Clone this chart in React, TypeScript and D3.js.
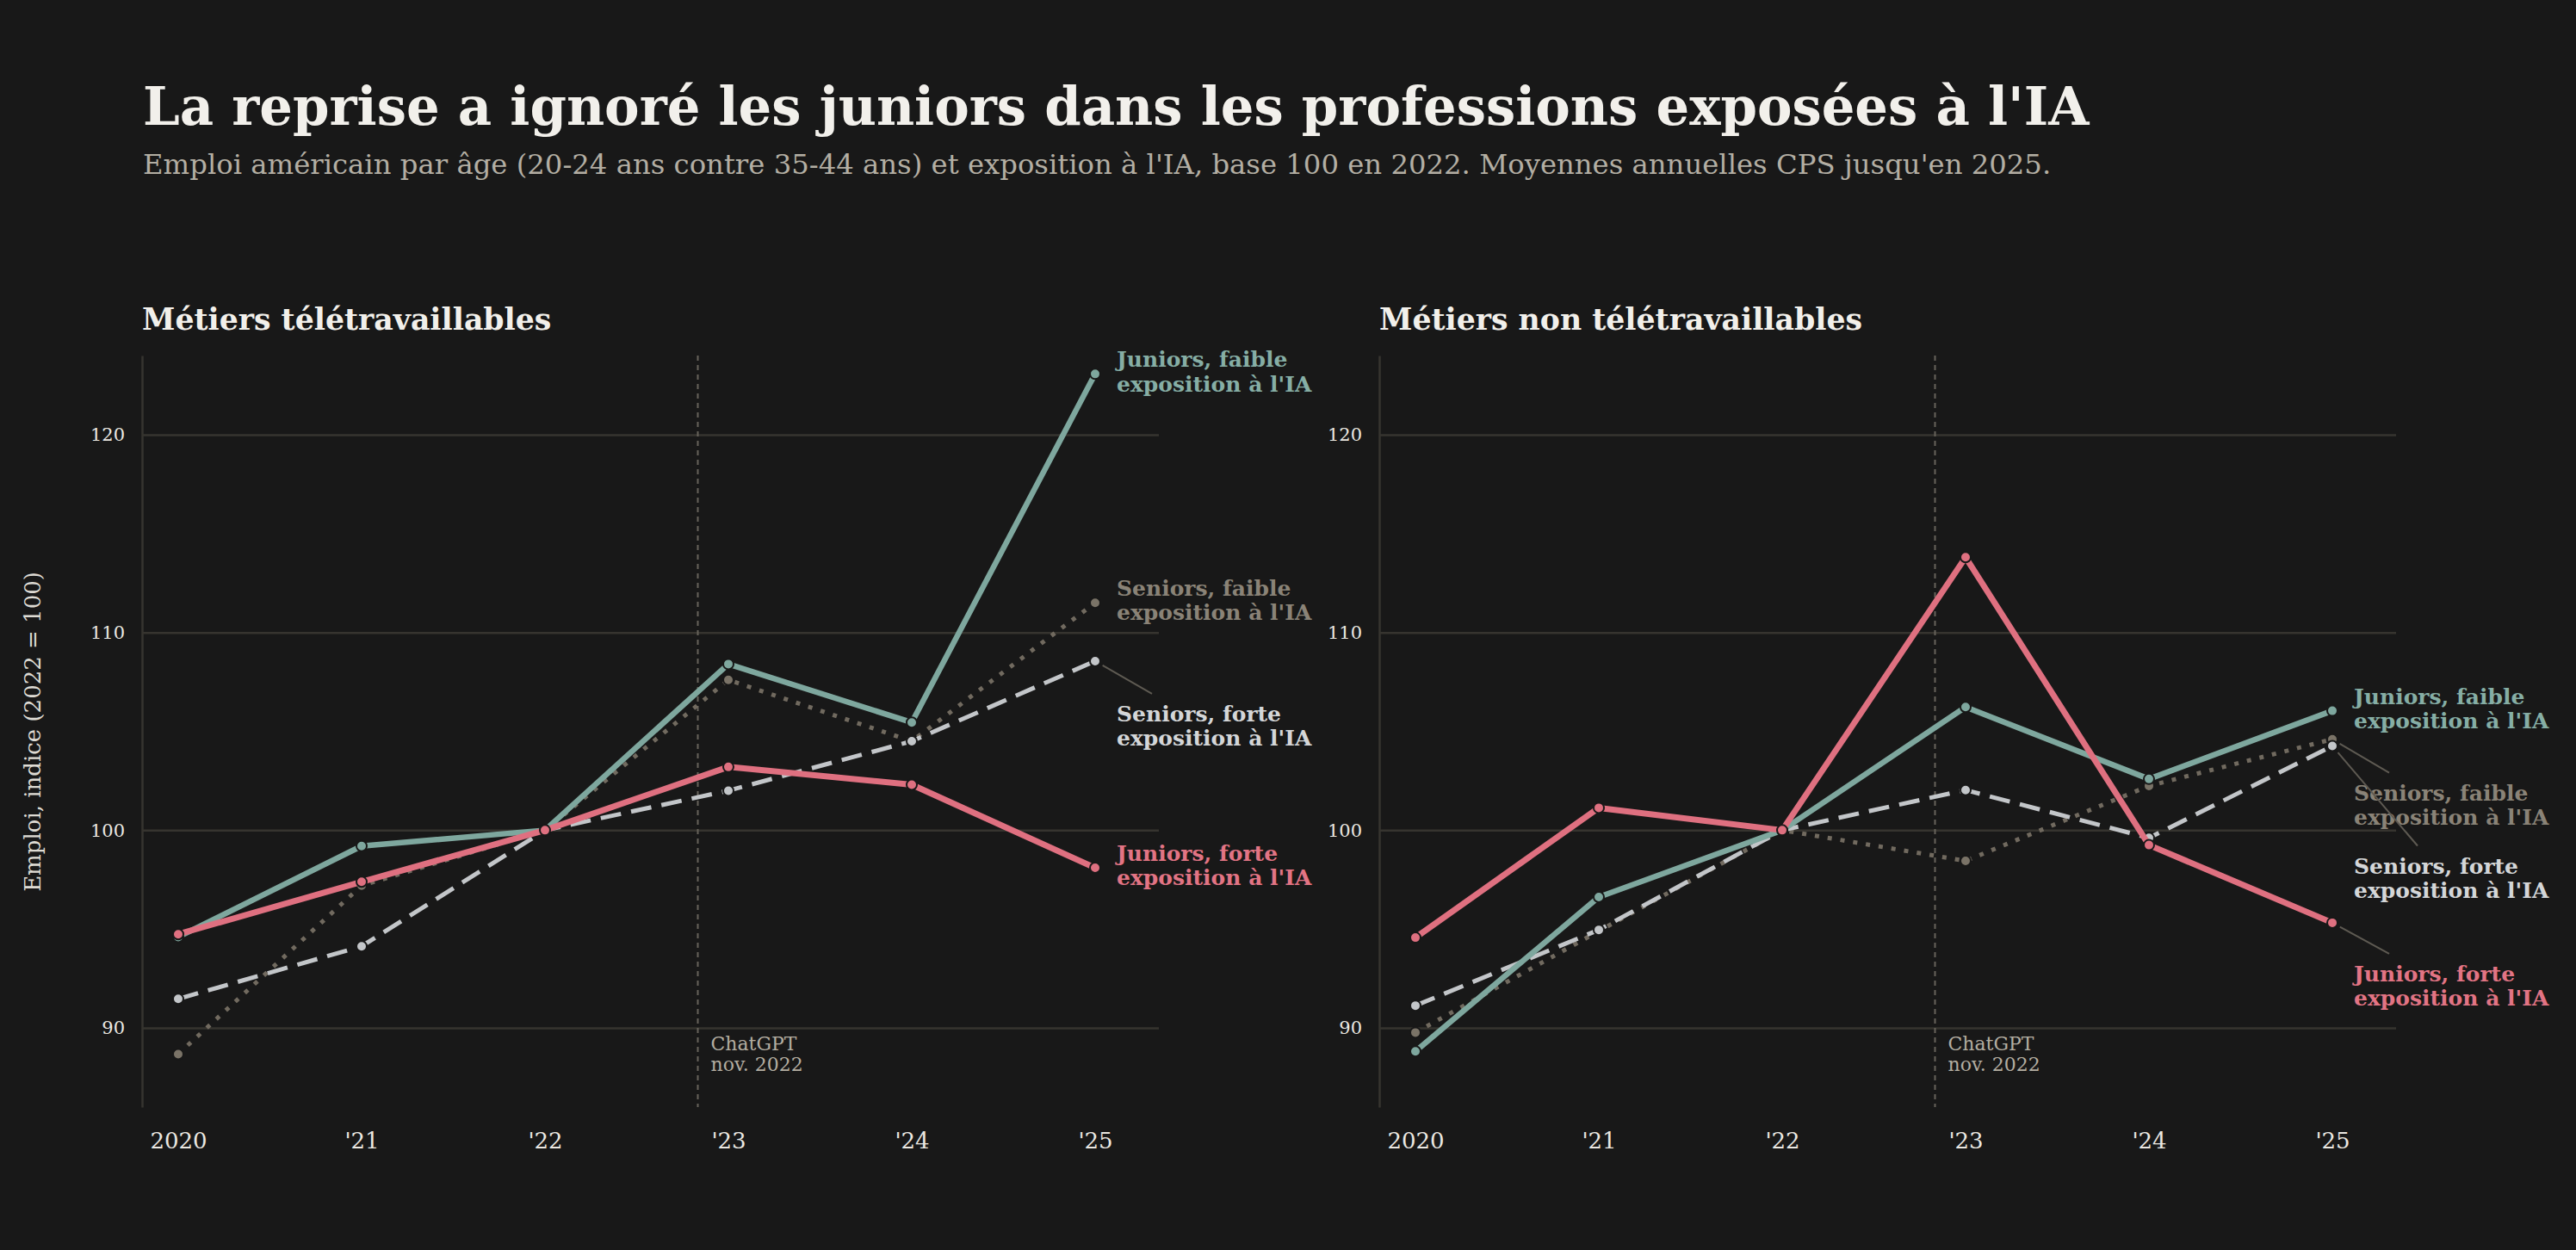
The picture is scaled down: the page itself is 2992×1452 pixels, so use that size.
import { useEffect, useRef } from "react"
import * as d3 from "d3"

// Chart data
const years = [2020, 2021, 2022, 2023, 2024, 2025]
const yearLabels = ["2020", "'21", "'22", "'23", "'24", "'25"]
const yTicks = [90, 100, 110, 120]
const chatGptDate = 2022 + 10 / 12

const panelTitles = ["Métiers télétravaillables", "Métiers non télétravaillables"]

// Métiers télétravaillables
const remoteJuniorsLow = [94.6, 99.2, 100, 108.4, 105.45, 123.07]
const remoteJuniorsHigh = [94.74, 97.39, 100, 103.2, 102.3, 98.1]
const remoteSeniorsLow = [88.68, 97.2, 100, 107.6, 104.5, 111.5]
const remoteSeniorsHigh = [91.47, 94.13, 100, 102.0, 104.5, 108.55]

// Métiers non télétravaillables
const onsiteJuniorsLow = [88.82, 96.62, 100, 106.23, 102.59, 106.04]
const onsiteJuniorsHigh = [94.57, 101.13, 100, 113.8, 99.25, 95.32]
const onsiteSeniorsLow = [89.77, 94.9, 100, 98.45, 102.24, 104.6]
const onsiteSeniorsHigh = [91.13, 94.96, 100, 102.03, 99.61, 104.26]

const seriesLabels = [
  ["Seniors, faible", "exposition à l'IA"],
  ["Seniors, forte", "exposition à l'IA"],
  ["Juniors, faible", "exposition à l'IA"],
  ["Juniors, forte", "exposition à l'IA"],
]

const panelValues = [
  [remoteSeniorsLow, remoteSeniorsHigh, remoteJuniorsLow, remoteJuniorsHigh],
  [onsiteSeniorsLow, onsiteSeniorsHigh, onsiteJuniorsLow, onsiteJuniorsHigh],
]

const W = 2992
const H = 1452
const BG = "#181818"
const FONT = "'DejaVu Serif', Georgia, serif"
const GRID = "#36342f"

// draw order: seniors faible, seniors forte, juniors faible, juniors forte
const seriesStyles = [
  { color: "#716a5f", dotColor: "#7a7367", width: 5, dash: "5,10", labelColor: "#8a8377" },
  { color: "#c3c6c9", dotColor: "#c3c6c9", width: 5, dash: "24,12", labelColor: "#d4d6d8" },
  { color: "#7ea79e", dotColor: "#7ea79e", width: 6.5, dash: null, labelColor: "#86aea5" },
  { color: "#df7080", dotColor: "#df7080", width: 7, dash: null, labelColor: "#e27484" },
]

// label offsets (px below the end point) and leader line end, per panel
const labelShift = [
  [0, 78, 0, 0],
  [79, 156, 0, 76],
]
const leaderDx = [
  [41, 41, 41, 41],
  [41, 74, 41, 41],
]

const panelLeft = [165, 1602]
const plotTop = 413
const plotBottom = 1286

const App = () => {
  const svgRef = useRef<SVGSVGElement | null>(null)

  useEffect(() => {
    if (!svgRef.current) return
    document.body.style.margin = "0"
    document.body.style.background = BG
    document.body.style.overflow = "hidden"

    const svg = d3.select(svgRef.current)
    svg.selectAll("*").remove()
    svg.attr("font-family", FONT)

    svg.append("rect").attr("width", W).attr("height", H).attr("fill", BG)

    // Titles
    svg
      .append("text")
      .attr("x", 166)
      .attr("y", 145)
      .attr("font-size", 60.8)
      .attr("font-weight", 700)
      .attr("fill", "#f2f0eb")
      .text("La reprise a ignoré les juniors dans les professions exposées à l'IA")

    svg
      .append("text")
      .attr("x", 166)
      .attr("y", 202)
      .attr("font-size", 32.3)
      .attr("fill", "#b3aea3")
      .text(
        "Emploi américain par âge (20-24 ans contre 35-44 ans) et exposition à l'IA, base 100 en 2022. Moyennes annuelles CPS jusqu'en 2025.",
      )

    const y = d3.scaleLinear().domain([86, 124]).range([plotBottom, plotTop])

    panelValues.forEach((values, pi) => {
      const left = panelLeft[pi]
      const gridEnd = left + 1181
      const x = d3.scaleLinear().domain([2020, 2025]).range([left + 42, left + 1107])
      const g = svg.append("g")

      g.append("text")
        .attr("x", left)
        .attr("y", 383)
        .attr("font-size", 34.7)
        .attr("font-weight", 700)
        .attr("fill", "#f2f0eb")
        .text(panelTitles[pi])

      // y axis + grid
      const yAxis = g
        .append("g")
        .attr("transform", `translate(${left},0)`)
        .call(
          d3
            .axisLeft(y)
            .tickValues(yTicks)
            .tickSize(-(gridEnd - left))
            .tickSizeOuter(0)
            .tickPadding(20),
        )
      yAxis.select(".domain").attr("stroke", GRID).attr("stroke-width", 2.5)
      yAxis.selectAll(".tick line").attr("stroke", GRID).attr("stroke-width", 2.5)
      yAxis
        .selectAll(".tick text")
        .attr("fill", "#ebe8e2")
        .attr("font-size", 21)
        .attr("font-family", FONT)

      // x axis
      const xAxis = g
        .append("g")
        .attr("transform", `translate(0,${plotBottom})`)
        .call(
          d3
            .axisBottom(x)
            .tickValues(years)
            .tickFormat((d, i) => yearLabels[i])
            .tickSize(0)
            .tickPadding(30),
        )
      xAxis.select(".domain").remove()
      xAxis
        .selectAll(".tick text")
        .attr("fill", "#ebe8e2")
        .attr("font-size", 26)
        .attr("font-family", FONT)

      // ChatGPT marker
      const cx = x(chatGptDate)
      g.append("line")
        .attr("x1", cx)
        .attr("x2", cx)
        .attr("y1", plotTop)
        .attr("y2", plotBottom)
        .attr("stroke", "#67635b")
        .attr("stroke-width", 2)
        .attr("stroke-dasharray", "6,5")
      const note = g.append("text").attr("font-size", 22).attr("fill", "#b3ada1")
      note.append("tspan").attr("x", cx + 15).attr("y", 1220).text("ChatGPT")
      note.append("tspan").attr("x", cx + 15).attr("y", 1244).text("nov. 2022")

      const line = d3
        .line<number>()
        .x((d, i) => x(years[i]))
        .y((d) => y(d))

      // lines + points
      values.forEach((vals, si) => {
        const st = seriesStyles[si]
        g.append("path")
          .datum(vals)
          .attr("d", line)
          .attr("fill", "none")
          .attr("stroke", st.color)
          .attr("stroke-width", st.width)
          .attr("stroke-linejoin", "round")
          .attr("stroke-dasharray", st.dash)

        g.selectAll(null)
          .data(vals)
          .join("circle")
          .attr("cx", (d, i) => x(years[i]))
          .attr("cy", (d) => y(d))
          .attr("r", 6)
          .attr("fill", st.dotColor)
          .attr("stroke", BG)
          .attr("stroke-width", 2)
      })

      // end labels
      const labelX = x(2025) + 25
      values.forEach((vals, si) => {
        const st = seriesStyles[si]
        const px = x(2025)
        const py = y(vals[vals.length - 1])
        const cy = py + labelShift[pi][si]

        if (labelShift[pi][si] !== 0) {
          const ex = labelX + leaderDx[pi][si]
          const ey = cy - 40
          const len = Math.hypot(ex - px, ey - py)
          const sx = px + ((ex - px) / len) * 10
          const sy = py + ((ey - py) / len) * 10
          g.append("line")
            .attr("x1", sx)
            .attr("y1", sy)
            .attr("x2", ex)
            .attr("y2", ey)
            .attr("stroke", "#5e5a52")
            .attr("stroke-width", 2)
        }

        const t = g
          .append("text")
          .attr("font-size", 25)
          .attr("font-weight", 700)
          .attr("fill", st.labelColor)
        t.append("tspan").attr("x", labelX).attr("y", cy - 8).text(seriesLabels[si][0])
        t.append("tspan").attr("x", labelX).attr("y", cy + 20.3).text(seriesLabels[si][1])
      })
    })

    // y axis title
    svg
      .append("text")
      .attr("transform", `translate(38,850) rotate(-90)`)
      .attr("text-anchor", "middle")
      .attr("dominant-baseline", "central")
      .attr("font-size", 26)
      .attr("fill", "#dedbd4")
      .text("Emploi, indice (2022 = 100)")
  }, [])

  return <svg ref={svgRef} width={W} height={H} style={{ display: "block" }} />
}

export default App
